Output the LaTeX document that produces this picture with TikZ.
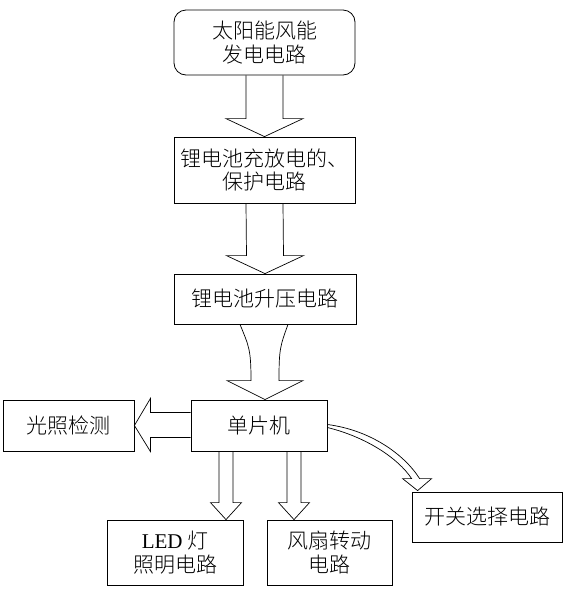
\documentclass[tikz,border=0pt]{standalone}
\usepackage{fontspec}
\setmainfont{Liberation Serif}
\newfontfamily\cjk{Noto Sans CJK SC}[UprightFont=* Light]
\usetikzlibrary{calc}
\begin{document}
\begin{tikzpicture}[x=1pt,y=-1pt,
  box/.style={draw, line width=0.8pt, inner sep=0pt, align=center,
    font=\fontsize{21}{23.5}\selectfont\cjk},
  fat/.style={draw, line width=0.7pt, line join=miter}]
\useasboundingbox[fill=white] (0,0) rectangle (568,590);
% boxes
\node[box, rounded corners=12pt, minimum width=181pt, minimum height=65pt] (b1) at (264.5,42.5) {太阳能风能\\发电电路};
\node[box, minimum width=181pt, minimum height=66pt] (b2) at (264.5,170) {锂电池充放电的、\\保护电路};
\node[box, minimum width=182pt, minimum height=50pt] (b3) at (265,299) {锂电池升压电路};
\node[box, minimum width=136pt, minimum height=51pt] (b4) at (259,425.5) {单片机};
\node[box, minimum width=131pt, minimum height=51pt] (light) at (68.5,425.5) {光照检测};
\node[box, minimum width=136pt, minimum height=65pt] (led) at (175,552.5) {{\rmfamily LED} 灯\\照明电路};
\node[box, minimum width=125pt, minimum height=65pt] (fan) at (329.5,552.5) {风扇转动\\电路};
\node[box, minimum width=150pt, minimum height=50pt] (sw) at (487,517) {开关选择电路};
% arrow 1
\coordinate (t1) at (b2.north);
\draw[fat] ($(b1.south)+(-18.5,0)$) -- ($(t1)+(-18.5,-18)$) -- ($(t1)+(-38.5,-18)$) -- (t1)
  -- ($(t1)+(38.5,-18)$) -- ($(t1)+(18.5,-18)$) -- ($(b1.south)+(18.5,0)$);
% arrow 2
\coordinate (t2) at (b3.north);
\draw[fat] ($(b2.south)+(-18.5,0)$) -- ($(t2)+(-18.5,-18)$) -- ($(t2)+(-38.5,-18)$) -- (t2)
  -- ($(t2)+(38.5,-18)$) -- ($(t2)+(18.5,-18)$) -- ($(b2.south)+(18.5,0)$);
% arrow 3 (curved)
\coordinate (t3) at (b3.south |- b4.north);
\draw[fat] ($(b3.south)+(-25,0)$) .. controls ($(b3.south)+(-16,22)$) and ($(t3)+(-14,-50)$) .. ($(t3)+(-14,-19)$)
  -- ($(t3)+(-38,-19)$) -- (t3) -- ($(t3)+(38,-19)$) -- ($(t3)+(14,-19)$)
  .. controls ($(t3)+(14,-50)$) and ($(b3.south)+(15,22)$) .. ($(b3.south)+(23,0)$);
% arrow to light detection
\coordinate (t4) at (light.east);
\draw[fat] ($(b4.west)+(0,-13)$) -- ($(t4)+(16,-13)$) -- ($(t4)+(16,-27)$) -- (t4)
  -- ($(t4)+(16,26)$) -- ($(t4)+(16,12)$) -- ($(b4.west)+(0,12)$);
% arrow to LED
\coordinate (s5) at ($(b4.south)+(-33,0)$);
\coordinate (t5) at (s5 |- led.north);
\draw[fat] ($(s5)+(-7,0)$) -- ($(t5)+(-7,-17)$) -- ($(t5)+(-15.5,-17)$) -- (t5)
  -- ($(t5)+(15.5,-17)$) -- ($(t5)+(7,-17)$) -- ($(s5)+(7,0)$);
% arrow to fan
\coordinate (s6) at ($(b4.south)+(35,0)$);
\coordinate (t6) at (s6 |- fan.north);
\draw[fat] ($(s6)+(-7,0)$) -- ($(t6)+(-7,-17)$) -- ($(t6)+(-15.5,-17)$) -- (t6)
  -- ($(t6)+(15.5,-17)$) -- ($(t6)+(7,-17)$) -- ($(s6)+(7,0)$);
% arrow to switch (curved, thin)
\coordinate (t7) at ($(sw.north west)+(6,-1)$);
\draw[fat] ($(b4.east)+(0,2)$) .. controls (366,437) and (398,458) .. ($(t7)+(-6,-12)$)
  -- ($(t7)+(-15,-12)$) -- (t7) -- ($(t7)+(14,-12)$) -- ($(t7)+(2,-12)$)
  .. controls (404,454) and (370,430) .. ($(b4.east)+(0,-1)$);
\end{tikzpicture}
\end{document}
